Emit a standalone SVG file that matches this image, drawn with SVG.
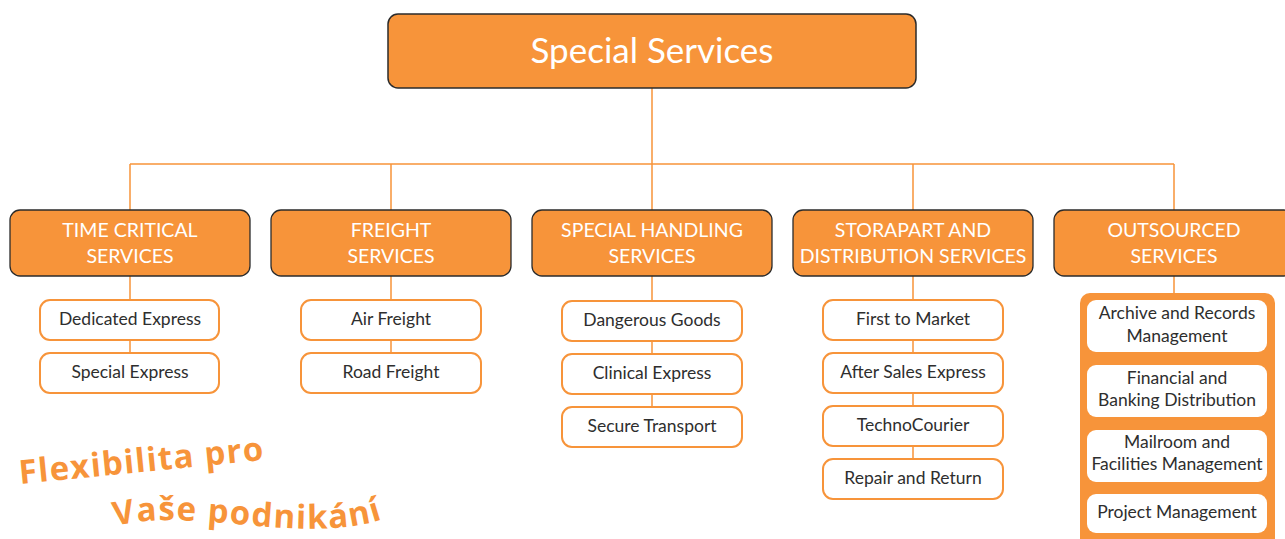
<svg xmlns="http://www.w3.org/2000/svg" width="1285" height="539" viewBox="0 0 1285 539">
<style>
.top{fill:#F7943A;stroke:#2b2b2b;stroke-width:1.5}
.l2{fill:#F7943A;stroke:#2b2b2b;stroke-width:1.3}
.l3{fill:#fff;stroke:#F7943A;stroke-width:2}
.in{fill:#fff;stroke:none}
.wt{fill:#fff;font-family:Lato,"Open Sans",sans-serif;text-anchor:middle}
.dt{fill:#2e2e2e;font-family:Lato,"Open Sans",sans-serif;font-size:17.5px;text-anchor:middle}
.con{stroke:#F7943A;stroke-width:1.5;fill:none}
.slogan{fill:#F7943A;font-family:"Open Sans",Lato,sans-serif;font-weight:bold;font-size:33px;letter-spacing:1.3px}
</style>
<g id="connectors">
<path class="con" d="M652 88V164M130 164H1174M130 164V210M391 164V210M652 164V210M913 164V210M1174 164V210"/>
<path class="con" d="M130 276V353M391 276V353M652 276V407M913 276V459M1174 276V293"/>
</g>
<g id="special-services"><rect class="top" x="388" y="14" width="528" height="74" rx="10"/><text class="wt" x="652" y="63" font-size="35">Special Services</text></g>
<g id="time-critical"><rect class="l2" x="10" y="210" width="240" height="66" rx="10"/><text class="wt" font-size="19.5"><tspan x="130" y="237">TIME CRITICAL</tspan><tspan x="130" y="263">SERVICES</tspan></text></g>
<g id="freight"><rect class="l2" x="271" y="210" width="240" height="66" rx="10"/><text class="wt" font-size="19.5"><tspan x="391" y="237">FREIGHT</tspan><tspan x="391" y="263">SERVICES</tspan></text></g>
<g id="special-handling"><rect class="l2" x="532" y="210" width="240" height="66" rx="10"/><text class="wt" font-size="19.5"><tspan x="652" y="237">SPECIAL HANDLING</tspan><tspan x="652" y="263">SERVICES</tspan></text></g>
<g id="storapart"><rect class="l2" x="793" y="210" width="240" height="66" rx="10"/><text class="wt" font-size="19.5"><tspan x="913" y="237">STORAPART AND</tspan><tspan x="913" y="263">DISTRIBUTION SERVICES</tspan></text></g>
<g id="outsourced"><rect class="l2" x="1054" y="210" width="240" height="66" rx="10"/><text class="wt" font-size="19.5"><tspan x="1174" y="237">OUTSOURCED</tspan><tspan x="1174" y="263">SERVICES</tspan></text></g>
<g id="dedicated-express"><rect class="l3" x="40" y="300" width="179" height="40" rx="10"/><text class="dt" x="130" y="325">Dedicated Express</text></g>
<g id="special-express"><rect class="l3" x="40" y="353" width="179" height="40" rx="10"/><text class="dt" x="130" y="378">Special Express</text></g>
<g id="air-freight"><rect class="l3" x="301" y="300" width="180" height="40" rx="10"/><text class="dt" x="391" y="325">Air Freight</text></g>
<g id="road-freight"><rect class="l3" x="301" y="353" width="180" height="40" rx="10"/><text class="dt" x="391" y="378">Road Freight</text></g>
<g id="dangerous-goods"><rect class="l3" x="562" y="301" width="180" height="40" rx="10"/><text class="dt" x="652" y="326">Dangerous Goods</text></g>
<g id="clinical-express"><rect class="l3" x="562" y="354" width="180" height="40" rx="10"/><text class="dt" x="652" y="379">Clinical Express</text></g>
<g id="secure-transport"><rect class="l3" x="562" y="407" width="180" height="40" rx="10"/><text class="dt" x="652" y="432">Secure Transport</text></g>
<g id="first-to-market"><rect class="l3" x="823" y="300" width="180" height="40" rx="10"/><text class="dt" x="913" y="325">First to Market</text></g>
<g id="after-sales"><rect class="l3" x="823" y="353" width="180" height="40" rx="10"/><text class="dt" x="913" y="378">After Sales Express</text></g>
<g id="technocourier"><rect class="l3" x="823" y="406" width="180" height="40" rx="10"/><text class="dt" x="913" y="431">TechnoCourier</text></g>
<g id="repair-return"><rect class="l3" x="823" y="459" width="180" height="40" rx="10"/><text class="dt" x="913" y="484">Repair and Return</text></g>
<g id="outsourced-list">
<rect x="1080" y="293" width="195" height="260" rx="10" fill="#F7943A"/>
<rect class="in" x="1087" y="300" width="180" height="52" rx="9"/>
<text class="dt"><tspan x="1177" y="319">Archive and Records</tspan><tspan x="1177" y="342">Management</tspan></text>
<rect class="in" x="1087" y="365" width="180" height="52" rx="9"/>
<text class="dt"><tspan x="1177" y="384">Financial and</tspan><tspan x="1177" y="406">Banking Distribution</tspan></text>
<rect class="in" x="1087" y="430" width="180" height="52" rx="9"/>
<text class="dt"><tspan x="1177" y="448">Mailroom and</tspan><tspan x="1177" y="470">Facilities Management</tspan></text>
<rect class="in" x="1087" y="494" width="180" height="39" rx="9"/>
<text class="dt" x="1177" y="518">Project Management</text>
</g>
<defs>
<path id="s1" d="M20 484 L295 457"/>
<path id="s2" d="M115 526 C200 505 320 552 400 512"/>
</defs>
<text class="slogan"><textPath href="#s1">Flexibilita pro</textPath></text>
<text class="slogan"><textPath href="#s2">Vaše podnikání</textPath></text>
</svg>
